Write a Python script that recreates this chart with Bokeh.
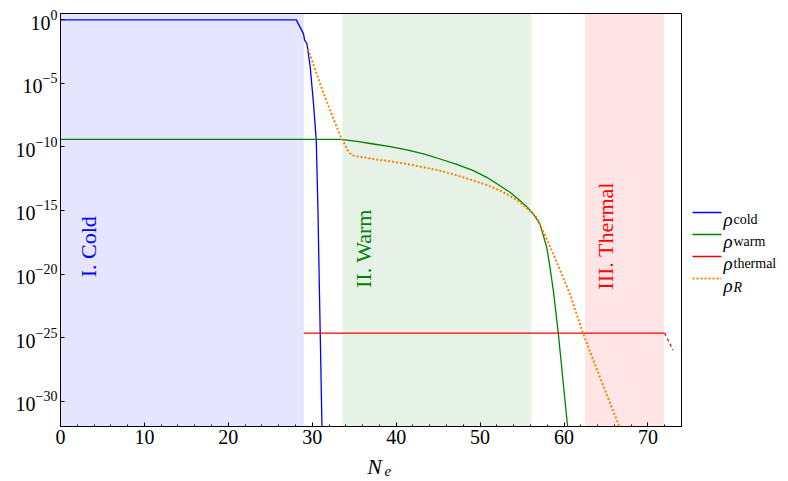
import numpy as np
from bokeh.plotting import figure
from bokeh.models import Range1d, FixedTicker, BoxAnnotation
from bokeh.layouts import row, column
from bokeh.core.properties import value
from bokeh.embed import file_html
from bokeh.resources import INLINE

FONT = "Liberation Serif"

# ---- data ----
region_names = ["I. Cold", "II. Warm", "III. Thermal"]
region_left = [0.0, 33.6, 62.5]
region_right = [29.0, 56.1, 71.9]
region_colors = ["#0000ff", "#008000", "#ff0000"]
region_label_x = [3.3, 36.1, 65.0]
region_label_log10 = [-17.85, -18.0, -17.0]

# curves, values read as log10(rho)
x_cold = [0.0, 28.1, 28.96, 29.08, 29.37, 29.76, 30.15, 30.48, 30.68, 30.83, 30.95, 31.15, 31.2]
rho_cold_log10 = [0.0, 0.0, -1.10, -1.57, -1.89, -3.73, -6.61, -9.5, -15.0, -20.5, -24.7, -31.8, -33.0]

x_warm = [0.0, 33.4, 35.32, 37.30, 39.29, 41.27, 43.25, 45.24, 47.22, 49.21, 50.79, 52.38, 53.57,
          54.76, 55.56, 56.35, 57.14, 57.94, 58.33, 58.73, 59.33, 59.92, 60.44, 60.55]
rho_warm_log10 = [-9.4, -9.4, -9.56, -9.77, -9.98, -10.24, -10.55, -10.95, -11.37, -11.87, -12.39,
                  -13.05, -13.57, -14.23, -14.70, -15.28, -16.07, -17.90, -19.48, -21.31, -24.73,
                  -28.66, -32.08, -33.0]

x_thermal = [29.0, 72.0]
rho_thermal_log10 = [-24.65, -24.65]
x_thermal_tail = [72.0, 73.0]
rho_thermal_tail_log10 = [-24.65, -26.0]

x_R = [29.5, 31.35, 33.33, 33.9, 34.3, 34.6, 34.92, 37.30, 39.29, 41.27, 43.25, 45.24, 47.22,
       49.21, 50.79, 52.38, 53.57, 54.76, 56.35, 56.75, 58.73, 60.71, 62.30, 64.29, 66.47, 66.7]
rho_R_log10 = [-2.3, -5.8, -9.11, -9.85, -10.35, -10.57, -10.69, -10.95, -11.13, -11.34, -11.60,
               -11.87, -12.23, -12.65, -12.99, -13.44, -13.86, -14.36, -15.28, -15.54, -18.43,
               -21.58, -24.73, -28.14, -31.81, -32.2]

x_ticks = [0, 10, 20, 30, 40, 50, 60, 70]
x_minor = list(range(0, 75, 2))
y_ticks = [1e0, 1e-5, 1e-10, 1e-15, 1e-20, 1e-25, 1e-30]

x_title_main = "N"
x_title_sub = "e"

legend_subs = ["cold", "warm", "thermal", "R"]
legend_sub_style = ["normal", "normal", "normal", "italic"]
legend_colors = ["#0000ff", "#008000", "#ff0000", "#ff8000"]
legend_dash = ["solid", "solid", "solid", "2 2"]


def pw(vals):
    return [10.0 ** v for v in vals]


H_TOP = 452          # height of main figure + legend
H_BOT = 26           # strip under the main figure holding the axis title
FRAME_TOP, FRAME_BOTTOM = 13, 426
X_RANGE = (0, 74)

# ---- main figure ----
p = figure(width=684, height=H_TOP, y_axis_type="log", title=None,
           x_range=Range1d(*X_RANGE), y_range=Range1d(1e-32, 10 ** 0.5),
           output_backend="svg", toolbar_location=None,
           min_border_left=60, min_border_right=3, min_border_top=FRAME_TOP,
           min_border_bottom=H_TOP - FRAME_BOTTOM)
p.xgrid.visible = False
p.ygrid.visible = False
p.outline_line_color = "black"
p.outline_line_alpha = 1.0
p.outline_line_width = 1

for l, r, c in zip(region_left, region_right, region_colors):
    p.add_layout(BoxAnnotation(left=l, right=r, fill_color=c, fill_alpha=0.1,
                               line_color=None, level="underlay"))

p.text(x=region_label_x, y=pw(region_label_log10), text=region_names, angle=np.pi / 2,
       text_color=region_colors, text_font=value(FONT), text_font_size="22px",
       text_align="center", text_baseline="middle")

p.line(x_cold, pw(rho_cold_log10), line_color="#0000ff", line_width=1.3)
p.line(x_warm, pw(rho_warm_log10), line_color="#008000", line_width=1.3)
p.line(x_thermal, pw(rho_thermal_log10), line_color="#ff0000", line_width=1.3)
p.line(x_thermal_tail, pw(rho_thermal_tail_log10), line_color="#ff0000", line_width=1.3,
       line_dash="3 3")
p.line(x_R, pw(rho_R_log10), line_color="#ff8000", line_width=2, line_dash="2 2")

p.xaxis.ticker = FixedTicker(ticks=x_ticks, minor_ticks=x_minor)
p.yaxis.ticker = FixedTicker(ticks=y_ticks, minor_ticks=[])
for ax in (p.xaxis[0], p.yaxis[0]):
    ax.major_tick_in = 4
    ax.major_tick_out = 0
    ax.minor_tick_in = 2
    ax.minor_tick_out = 0
    ax.axis_line_color = "black"
    ax.major_tick_line_color = "black"
    ax.minor_tick_line_color = "black"
    ax.major_label_text_font = FONT
    ax.major_label_text_font_size = "20px"
    ax.major_label_text_color = "black"
    ax.major_label_standoff = 3

# ---- strip with the x-axis title N_e (same horizontal mapping as the main plot) ----
bot = figure(width=684, height=H_BOT, title=None, x_range=Range1d(*X_RANGE),
             y_range=Range1d(H_TOP + H_BOT, H_TOP),
             output_backend="svg", toolbar_location=None,
             min_border_left=60, min_border_right=3, min_border_top=0, min_border_bottom=0,
             x_axis_location=None, y_axis_location=None)
bot.xgrid.visible = False
bot.ygrid.visible = False
bot.outline_line_color = None
bot.text(x=[36.55], y=[466], text=[x_title_main], text_font=value(FONT),
         text_font_style="italic", text_font_size="22px", text_color="black",
         text_baseline="alphabetic")
bot.text(x=[38.6], y=[470], text=[x_title_sub], text_font=value(FONT),
         text_font_style="italic", text_font_size="15px", text_color="black",
         text_baseline="alphabetic")

# ---- legend figure (frame aligned with the main frame; data units = pixels) ----
leg = figure(width=100, height=H_TOP, x_range=Range1d(0, 100),
             y_range=Range1d(FRAME_BOTTOM, FRAME_TOP), title=None,
             output_backend="svg", toolbar_location=None, min_border=0,
             min_border_top=FRAME_TOP, min_border_bottom=H_TOP - FRAME_BOTTOM,
             x_axis_location=None, y_axis_location=None)
leg.xgrid.visible = False
leg.ygrid.visible = False
leg.outline_line_color = None
legend_y = [212, 234, 256, 278]
legend_sub_dy = [6.5, 6.5, 6.5, 8.5]
for yy, c, d, s, st, dy in zip(legend_y, legend_colors, legend_dash, legend_subs,
                               legend_sub_style, legend_sub_dy):
    leg.line([8, 37], [yy, yy], line_color=c, line_width=2 if d != "solid" else 1.3, line_dash=d)
    leg.text(x=[39], y=[yy + 6.5], text=["ρ"], text_font=value(FONT), text_font_style="italic",
             text_font_size="19px", text_color="black", text_baseline="alphabetic")
    leg.text(x=[49], y=[yy + dy], text=[s], text_font=value(FONT), text_font_style=st,
             text_font_size="14px", text_color="black", text_baseline="alphabetic")

layout = column(row(p, leg), bot)
open("out.html", "w").write(file_html(layout, INLINE))
